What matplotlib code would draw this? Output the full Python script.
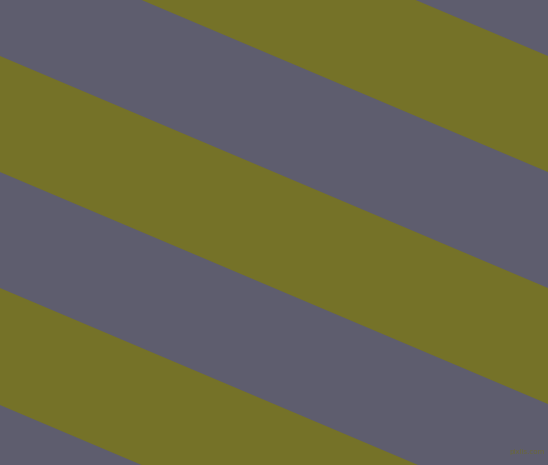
import numpy as np
import matplotlib.pyplot as plt

# stripe boundaries: y = slope * x + offset (pixels, y down)
slope = 0.4234
offsets = [-292, -176, -60, 56, 172, 288, 405, 521, 637]
gray = "#5e5d6e"
olive = "#757228"

fig = plt.figure(figsize=(5.48, 4.65), dpi=100, facecolor=gray)
ax = fig.add_axes([0, 0, 1, 1])
ax.set_xlim(0, 548)
ax.set_ylim(465, 0)
ax.axis("off")

x = np.array([0, 548])
# olive bands sit between offsets[1]-[2], [3]-[4], ...
for i in range(1, len(offsets) - 1, 2):
    y1 = slope * x + offsets[i]
    y2 = slope * x + offsets[i + 1]
    ax.fill_between(x, y1, y2, color=olive, linewidth=0)

ax.text(527, 452, "pixlis.com", fontsize=5, color="#6a6839",
        ha="center", va="center")

fig.savefig("out.png", dpi=100, facecolor=gray)
